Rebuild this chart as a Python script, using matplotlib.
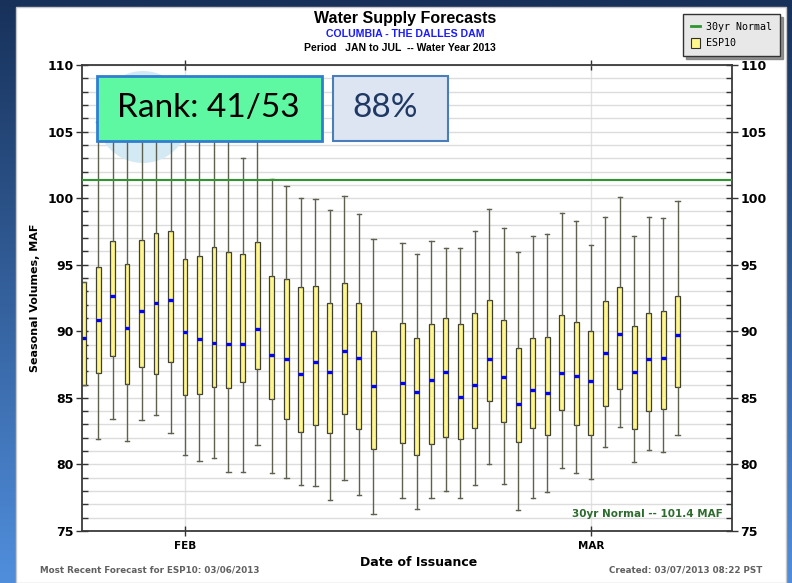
import numpy as np
import matplotlib.pyplot as plt
import matplotlib.dates as mdates
from matplotlib.patches import Rectangle, Ellipse, Patch
from matplotlib.lines import Line2D
from matplotlib.ticker import MultipleLocator
from matplotlib import font_manager

# ESP10 forecast issuances (Feb 15 has no run)
issue_dates = ['2013-01-25', '2013-01-26', '2013-01-27', '2013-01-28', '2013-01-29',
               '2013-01-30', '2013-01-31', '2013-02-01', '2013-02-02', '2013-02-03',
               '2013-02-04', '2013-02-05', '2013-02-06', '2013-02-07', '2013-02-08',
               '2013-02-09', '2013-02-10', '2013-02-11', '2013-02-12', '2013-02-13',
               '2013-02-14', '2013-02-16', '2013-02-17', '2013-02-18', '2013-02-19',
               '2013-02-20', '2013-02-21', '2013-02-22', '2013-02-23', '2013-02-24',
               '2013-02-25', '2013-02-26', '2013-02-27', '2013-02-28', '2013-03-01',
               '2013-03-02', '2013-03-03', '2013-03-04', '2013-03-05', '2013-03-06',
               '2013-03-07']

whisker_hi = [93.73, 105.7, 106.5, 106.0, 107.0, 106.8, 107.5, 105.6, 105.4, 106.2,
              105.9, 103.0, 106.6, 101.47, 100.9, 100.0, 99.95, 99.14, 100.17, 98.84,
              96.94, 96.66, 95.84, 96.81, 96.29, 96.29, 97.54, 99.22, 97.74, 95.94,
              97.17, 97.32, 98.87, 98.32, 96.49, 98.62, 100.08, 97.17, 98.62, 98.5,
              99.82]
box_hi = [93.73, 94.81, 96.79, 95.04, 96.86, 97.37, 97.52, 95.41, 95.68, 96.32,
          95.99, 95.84, 96.72, 94.16, 93.93, 93.35, 93.43, 92.11, 93.65, 92.11,
          90.05, 90.6, 89.47, 90.53, 91.02, 90.57, 91.38, 92.33, 90.87, 88.74,
          89.47, 89.55, 91.23, 90.72, 90.0, 92.26, 93.35, 90.38, 91.38, 91.53,
          92.63]
medians = [89.47, 90.85, 92.63, 90.23, 91.53, 92.13, 92.33, 89.92, 89.4, 89.12,
           89.05, 89.05, 90.15, 88.24, 87.94, 86.77, 87.67, 86.92, 88.52, 88.02,
           85.89, 86.11, 85.46, 86.34, 86.92, 85.04, 85.96, 87.94, 86.54, 84.51,
           85.61, 85.34, 86.84, 86.62, 86.26, 88.39, 89.77, 86.92, 87.94, 88.02,
           89.7]
box_lo = [85.96, 86.89, 88.17, 86.02, 87.29, 86.77, 87.67, 85.23, 85.29, 85.84,
          85.76, 86.19, 87.17, 84.89, 83.41, 82.45, 82.95, 82.38, 83.76, 82.63,
          81.15, 81.58, 80.7, 81.5, 82.03, 81.88, 82.75, 84.74, 83.16, 81.65,
          82.75, 82.23, 84.08, 82.95, 82.23, 84.36, 85.66, 82.68, 84.01, 84.16,
          85.81]
whisker_lo = [85.96, 81.88, 83.41, 81.73, 83.33, 83.71, 82.33, 80.7, 80.25, 80.47,
              79.4, 79.4, 81.43, 79.32, 78.95, 78.44, 78.37, 77.32, 78.8, 77.72,
              76.26, 77.49, 76.66, 77.49, 77.99, 77.49, 78.44, 80.0, 78.52, 76.54,
              77.49, 77.92, 79.74, 79.37, 78.87, 81.3, 82.83, 80.2, 81.05, 80.9,
              82.18]

normal_30yr = 101.4
rank_text = 'Rank: 41/53'
pct_text = '88%'

# narrow face for the header lines if it is around
names = {f.name for f in font_manager.fontManager.ttflist}
narrow = 'Liberation Sans Narrow' if 'Liberation Sans Narrow' in names else 'Liberation Sans'

W, H = 792, 583
fig = plt.figure(figsize=(W / 100, H / 100), dpi=100)

# slide background: dark navy fading to lighter blue
bg = fig.add_axes([0, 0, 1, 1], zorder=-10)
top_c = np.array([0x17, 0x31, 0x5a]) / 255
bot_c = np.array([0x50, 0x8e, 0xdc]) / 255
t = np.linspace(0, 1, 256)[:, None]
grad = (top_c[None, :] * (1 - t) + bot_c[None, :] * t)[:, None, :]
bg.imshow(grad, aspect='auto', extent=[0, 1, 0, 1], origin='upper')
bg.add_patch(Rectangle((16 / W, 0), (786 - 16) / W, 1 - 7 / H, facecolor='white',
                       edgecolor='#c8c8c8', lw=1.0))
bg.set_xlim(0, 1)
bg.set_ylim(0, 1)
bg.axis('off')

ax = fig.add_axes([82 / W, 1 - 531 / H, (732 - 82) / W, (531 - 65) / H], zorder=1)
ax.set_facecolor('white')

x = mdates.date2num(np.array(issue_dates, dtype='datetime64[D]'))
stats = [dict(whislo=a, q1=b, med=c, q3=d, whishi=e, fliers=[])
         for a, b, c, d, e in zip(whisker_lo, box_lo, medians, box_hi, whisker_hi)]

ax.bxp(stats, positions=x, widths=0.34, capwidths=0.3, patch_artist=True,
       showfliers=False, manage_ticks=False,
       boxprops=dict(facecolor='#fff68c', edgecolor='#404030', linewidth=0.9),
       whiskerprops=dict(color='#606050', linewidth=1.0),
       capprops=dict(color='#606050', linewidth=1.0),
       medianprops=dict(color='#0000ff', linewidth=2.4, solid_capstyle='butt'))

ax.axhline(normal_30yr, color='#2e962e', lw=1.5, zorder=3, label='30yr Normal')

feb1 = mdates.date2num(np.datetime64('2013-02-01'))
mar1 = mdates.date2num(np.datetime64('2013-03-01'))
ax.set_xlim(feb1 - 7.108, feb1 + 37.75)
ax.set_ylim(75, 110)

ax.set_xticks([feb1, mar1])
ax.set_xticklabels(['FEB', 'MAR'])
ax.yaxis.set_major_locator(MultipleLocator(5))
ax.yaxis.set_minor_locator(MultipleLocator(1))
ax.grid(True, which='both', axis='y', color='#dcdcdc', lw=1.0)
ax.grid(True, which='major', axis='x', color='#e2e2e2', lw=1.0)
ax.set_axisbelow(True)

ax.tick_params(axis='y', which='major', direction='inout', length=8, width=1,
               left=True, right=True, labelleft=True, labelright=True, pad=2,
               labelsize=9, color='#333333')
ax.tick_params(axis='y', which='minor', direction='in', length=4, width=1,
               left=True, right=True, color='#333333')
ax.tick_params(axis='x', which='major', direction='inout', length=7, width=1,
               top=True, bottom=True, pad=4, labelsize=7.5, color='#333333')
for lab in ax.get_xticklabels() + ax.get_yticklabels():
    lab.set_fontweight('bold')
for s in ax.spines.values():
    s.set_color('#3a3a3a')
    s.set_linewidth(1.3)

ax.text(0.985, 0.036, '30yr Normal -- 101.4 MAF', transform=ax.transAxes,
        ha='right', va='center', color='#2e6b2e', fontsize=7.5, fontweight='bold')

# pale circle behind the rank callout
ax.add_patch(Ellipse((143 / W, 1 - 117 / H), 92 / W, 92 / H, transform=fig.transFigure,
                     facecolor='#d3eaf5', edgecolor='none', zorder=0.9, clip_on=False))

# rank / percent callouts
fig.patches.append(Rectangle((97 / W, 1 - 141 / H), 225 / W, 65 / H,
                             transform=fig.transFigure, facecolor='#5ef7a2',
                             edgecolor='#2f7fd0', lw=2.0, zorder=5))
fig.patches.append(Rectangle((333 / W, 1 - 141 / H), 115 / W, 65 / H,
                             transform=fig.transFigure, facecolor='#dce5f1',
                             edgecolor='#4a7ebb', lw=1.5, zorder=5))
fig.text(208 / W, 1 - 108 / H, rank_text, ha='center', va='center', fontsize=24,
         family='Lato', color='black', zorder=6)
fig.text(385 / W, 1 - 108 / H, pct_text, ha='center', va='center', fontsize=24,
         family='Lato', color='#1f3864', zorder=6)

# titles
fig.text(405 / W, 1 - 18 / H, 'Water Supply Forecasts', ha='center', va='center',
         fontsize=11.5, fontweight='bold', family=narrow)
fig.text(405 / W, 1 - 34 / H, 'COLUMBIA - THE DALLES DAM', ha='center', va='center',
         fontsize=7.6, fontweight='bold', color='#1a1aff', family=narrow)
fig.text(400 / W, 1 - 48 / H, 'Period   JAN to JUL  -- Water Year 2013', ha='center',
         va='center', fontsize=7.5, fontweight='bold', family=narrow)
fig.text(35 / W, 1 - 298 / H, 'Seasonal Volumes, MAF', rotation=90, ha='center',
         va='center', fontsize=8, fontweight='bold')
fig.text(419 / W, 1 - 563 / H, 'Date of Issuance', ha='center', va='center',
         fontsize=9, fontweight='bold')
fig.text(40 / W, 1 - 570 / H, 'Most Recent Forecast for ESP10: 03/06/2013', ha='left',
         va='center', fontsize=6.3, fontweight='bold', color='#606060')
fig.text(762 / W, 1 - 570 / H, 'Created: 03/07/2013 08:22 PST', ha='right',
         va='center', fontsize=6.3, fontweight='bold', color='#606060')

handles = [Line2D([], [], color='#2e962e', lw=2),
           Patch(facecolor='#fff68c', edgecolor='#303030', lw=0.8)]
leg = fig.legend(handles, ['30yr Normal', 'ESP10'], loc='upper right',
                 bbox_to_anchor=(780 / W, 1 - 14 / H), frameon=True, fancybox=False,
                 shadow=dict(color='#777777', alpha=0.8),
                 prop=dict(family='DejaVu Sans Mono', size=7.2),
                 handlelength=0.9, handleheight=1.1, handletextpad=0.6,
                 borderpad=0.8, labelspacing=0.6, borderaxespad=0)
leg.get_frame().set_facecolor('#e8e8e8')
leg.get_frame().set_edgecolor('#333333')
leg.get_frame().set_alpha(1)

fig.savefig('out.png', dpi=100)
